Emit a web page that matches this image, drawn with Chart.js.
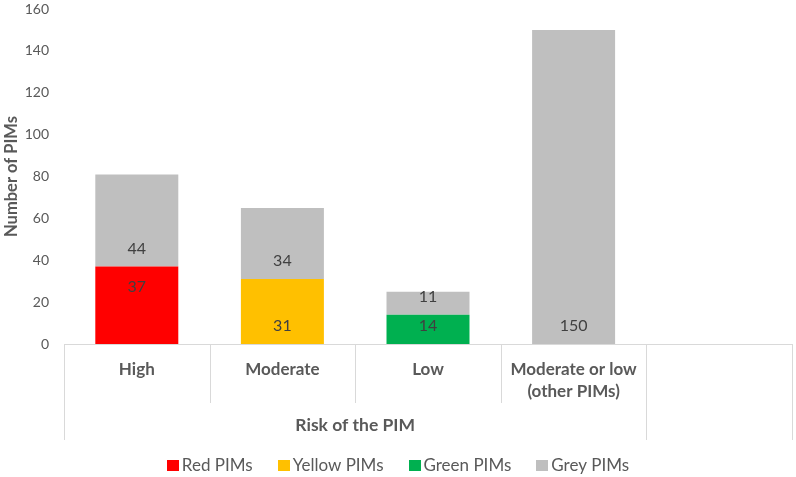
<!DOCTYPE html>
<html>
<head>
<meta charset="utf-8">
<script src="https://cdn.jsdelivr.net/npm/chart.js@4.4.1/dist/chart.umd.min.js"></script>
<style>
html,body{margin:0;padding:0;background:#fff;}
#wrap{width:796px;height:477px;position:relative;}
</style>
</head>
<body>
<div id="wrap"><canvas id="c" width="796" height="477"></canvas></div>
<script>
const categories = ['High', 'Moderate', 'Low', ['Moderate or low', '(other PIMs)'], ''];
const groupTitle = 'Risk of the PIM';
const groupSpan = 4;
const redPIMs = [37, null, null, null, null];
const yellowPIMs = [null, 31, null, null, null];
const greenPIMs = [null, null, 14, null, null];
const greyPIMs = [44, 34, 11, 150, null];
const yTicks = [0, 20, 40, 60, 80, 100, 120, 140, 160];

const FONT = 'Lato, "Open Sans", sans-serif';
const TXT = '#595959';

const labelPlugin = {
  id: 'barLabels',
  afterDatasetsDraw(chart) {
    const ctx = chart.ctx;
    ctx.save();
    ctx.font = '16px ' + FONT;
    ctx.fillStyle = '#404040';
    ctx.textAlign = 'center';
    ctx.textBaseline = 'middle';
    chart.data.datasets.forEach((ds, di) => {
      const meta = chart.getDatasetMeta(di);
      meta.data.forEach((el, i) => {
        const v = ds.data[i];
        if (v === null || v === undefined) return;
        const y = ds.labelAnchor === 'end' ? el.y + 20 : el.base - 18;
        ctx.fillText(String(v), el.x, y);
      });
    });
    ctx.restore();
  }
};

const axisPlugin = {
  id: 'multiAxis',
  afterDraw(chart) {
    const ctx = chart.ctx;
    const x = chart.scales.x;
    const area = chart.chartArea;
    const n = categories.length;
    const w = (area.right - area.left) / n;
    const top = area.bottom;
    const innerBottom = top + 59;
    const outerBottom = top + 96;
    ctx.save();
    ctx.strokeStyle = '#d9d9d9';
    ctx.lineWidth = 1;
    ctx.beginPath();
    ctx.moveTo(area.left, top + 0.5);
    ctx.lineTo(area.right, top + 0.5);
    for (let i = 0; i <= n; i++) {
      const px = Math.round(area.left + i * w) + 0.5;
      const full = (i === 0 || i === groupSpan || i === n);
      ctx.moveTo(px, top);
      ctx.lineTo(px, full ? outerBottom : innerBottom);
    }
    ctx.stroke();
    ctx.fillStyle = TXT;
    ctx.font = 'bold 17px ' + FONT;
    ctx.textAlign = 'center';
    ctx.textBaseline = 'middle';
    categories.forEach((c, i) => {
      const cx = x.getPixelForValue(i);
      const lines = Array.isArray(c) ? c : [c];
      lines.forEach((l, j) => ctx.fillText(l, cx, top + 26 + j * 22));
    });
    const gx = (area.left + area.left + groupSpan * w) / 2;
    ctx.font = 'bold 17.5px ' + FONT;
    ctx.fillText(groupTitle, gx, top + 81);

    // legend
    const items = chart.data.datasets.map(d => ({ text: d.label, color: d.backgroundColor }));
    ctx.font = '17px ' + FONT;
    const box = 11, gapBoxText = 4, gapItems = 25;
    let total = 0;
    items.forEach((it, i) => {
      it.w = ctx.measureText(it.text).width;
      total += box + gapBoxText + it.w + (i < items.length - 1 ? gapItems : 0);
    });
    let lx = (chart.width - total) / 2;
    const ly = 466;
    ctx.textAlign = 'left';
    items.forEach(it => {
      ctx.fillStyle = it.color;
      ctx.fillRect(Math.round(lx), ly - 6, box + 1, box);
      ctx.fillStyle = TXT;
      ctx.fillText(it.text, lx + box + gapBoxText, ly);
      lx += box + gapBoxText + it.w + gapItems;
    });
    ctx.restore();
  }
};

new Chart(document.getElementById('c'), {
  type: 'bar',
  data: {
    labels: categories,
    datasets: [
      { label: 'Red PIMs', data: redPIMs, backgroundColor: '#FF0000', labelAnchor: 'end' },
      { label: 'Yellow PIMs', data: yellowPIMs, backgroundColor: '#FFC000' },
      { label: 'Green PIMs', data: greenPIMs, backgroundColor: '#00B050' },
      { label: 'Grey PIMs', data: greyPIMs, backgroundColor: '#BFBFBF' }
    ]
  },
  options: {
    responsive: false,
    animation: false,
    devicePixelRatio: 1,
    layout: { padding: { left: 0, right: 4, top: 9, bottom: 37 } },
    datasets: { bar: { barPercentage: 0.57, categoryPercentage: 1.0, borderWidth: 0 } },
    plugins: {
      tooltip: { enabled: false },
      legend: { display: false }
    },
    scales: {
      x: {
        stacked: true,
        grid: { display: false },
        border: { display: false },
        ticks: { display: false },
        afterFit(s) { s.height = 96; }
      },
      y: {
        stacked: true,
        min: 0, max: 160,
        afterBuildTicks(s) { s.ticks = yTicks.map(v => ({ value: v })); },
        grid: { display: false },
        border: { display: false },
        ticks: { color: TXT, font: { family: FONT, size: 14, lineHeight: 0.1 }, padding: 7 },
        title: { display: true, text: 'Number of PIMs', color: TXT, font: { family: FONT, size: 16.5, weight: 'bold' }, padding: { top: 2, bottom: 0 } },
        afterFit(s) { s.width = 64; }
      }
    }
  },
  plugins: [labelPlugin, axisPlugin]
});
</script>
</body>
</html>
